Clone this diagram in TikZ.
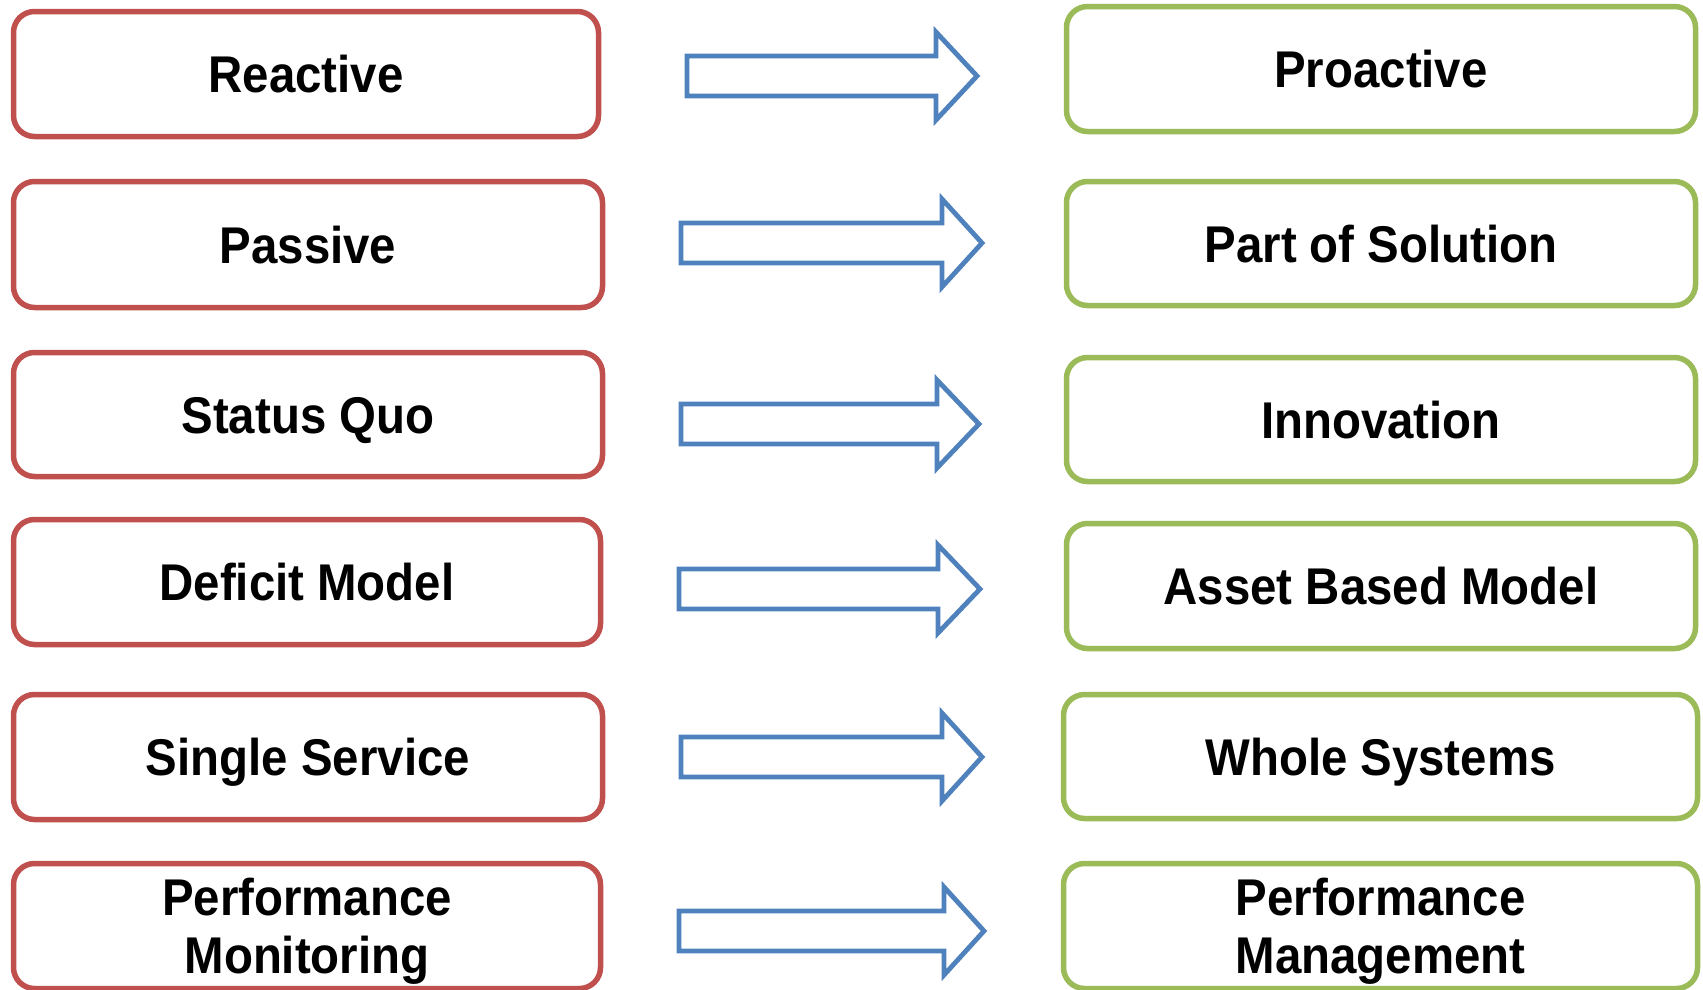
\documentclass[tikz,border=0pt]{standalone}
\usepackage{fontspec}
\setmainfont{Liberation Sans}
\usepackage{graphicx}
\definecolor{oldred}{HTML}{C0504D}
\definecolor{newgreen}{HTML}{9BBB59}
\definecolor{arrowblue}{HTML}{4F81BD}
\newcommand{\lbl}[1]{\raisebox{-7pt}[\height][\depth]{\scalebox{1}[1.09]{\begin{tabular}{@{}c@{}}#1\end{tabular}}}}
\newcommand{\blockarrow}[5]{%
  \draw[blockarr] (#2,#5-20) coordinate (#1) -- (#3,#5-20) -- (#3,#5-44) -- (#4,#5)
    -- (#3,#5+44) -- (#3,#5+20) -- (#2,#5+20) -- cycle;}
\begin{document}
\begin{tikzpicture}[x=1pt,y=-1pt,
  box/.style={draw, line width=5.5pt, rounded corners=21pt, fill=white,
    inner sep=0pt, font=\bfseries\fontsize{47.4}{53}\selectfont},
  oldbox/.style={box, draw=oldred},
  newbox/.style={box, draw=newgreen},
  blockarr/.style={draw=arrowblue, line width=4.8pt, line join=miter, fill=white}]
\useasboundingbox (0,0) rectangle (1703,989);
\clip (0,0) rectangle (1703,989);
% current practice (left column)
\node[oldbox, minimum width=585pt, minimum height=125pt] (l1) at (306,74) {\lbl{Reactive}};
\node[oldbox, minimum width=589pt, minimum height=126pt] (l2) at (308,244.5) {\lbl{Passive}};
\node[oldbox, minimum width=589pt, minimum height=124pt] (l3) at (308,414.5) {\lbl{Status Quo}};
\node[oldbox, minimum width=587pt, minimum height=125pt] (l4) at (307,582) {\lbl{Deficit Model}};
\node[oldbox, minimum width=589pt, minimum height=125pt] (l5) at (308,757) {\lbl{Single Service}};
\node[oldbox, minimum width=587pt, minimum height=125pt] (l6) at (307,926) {\lbl{Performance\\Monitoring}};
% future practice (right column)
\node[newbox, minimum width=629pt, minimum height=125pt] (r1) at (1381,69) {\lbl{Proactive}};
\node[newbox, minimum width=629pt, minimum height=124pt] (r2) at (1381,243.5) {\lbl{Part of Solution}};
\node[newbox, minimum width=629pt, minimum height=124pt] (r3) at (1381,419.5) {\lbl{Innovation}};
\node[newbox, minimum width=629pt, minimum height=125pt] (r4) at (1381,586) {\lbl{Asset Based Model}};
\node[newbox, minimum width=634pt, minimum height=124pt] (r5) at (1380.5,756.5) {\lbl{Whole Systems}};
\node[newbox, minimum width=634pt, minimum height=125pt] (r6) at (1380.5,926) {\lbl{Performance\\Management}};
% block arrows: name, shaft start, head base, tip, centre line
\blockarrow{a1}{687}{936}{977}{76}
\blockarrow{a2}{681}{942}{982}{243}
\blockarrow{a3}{681}{937}{979}{424}
\blockarrow{a4}{679}{938}{980}{589}
\blockarrow{a5}{681}{942}{982}{757}
\blockarrow{a6}{679}{944}{984}{931}
\end{tikzpicture}
\end{document}
